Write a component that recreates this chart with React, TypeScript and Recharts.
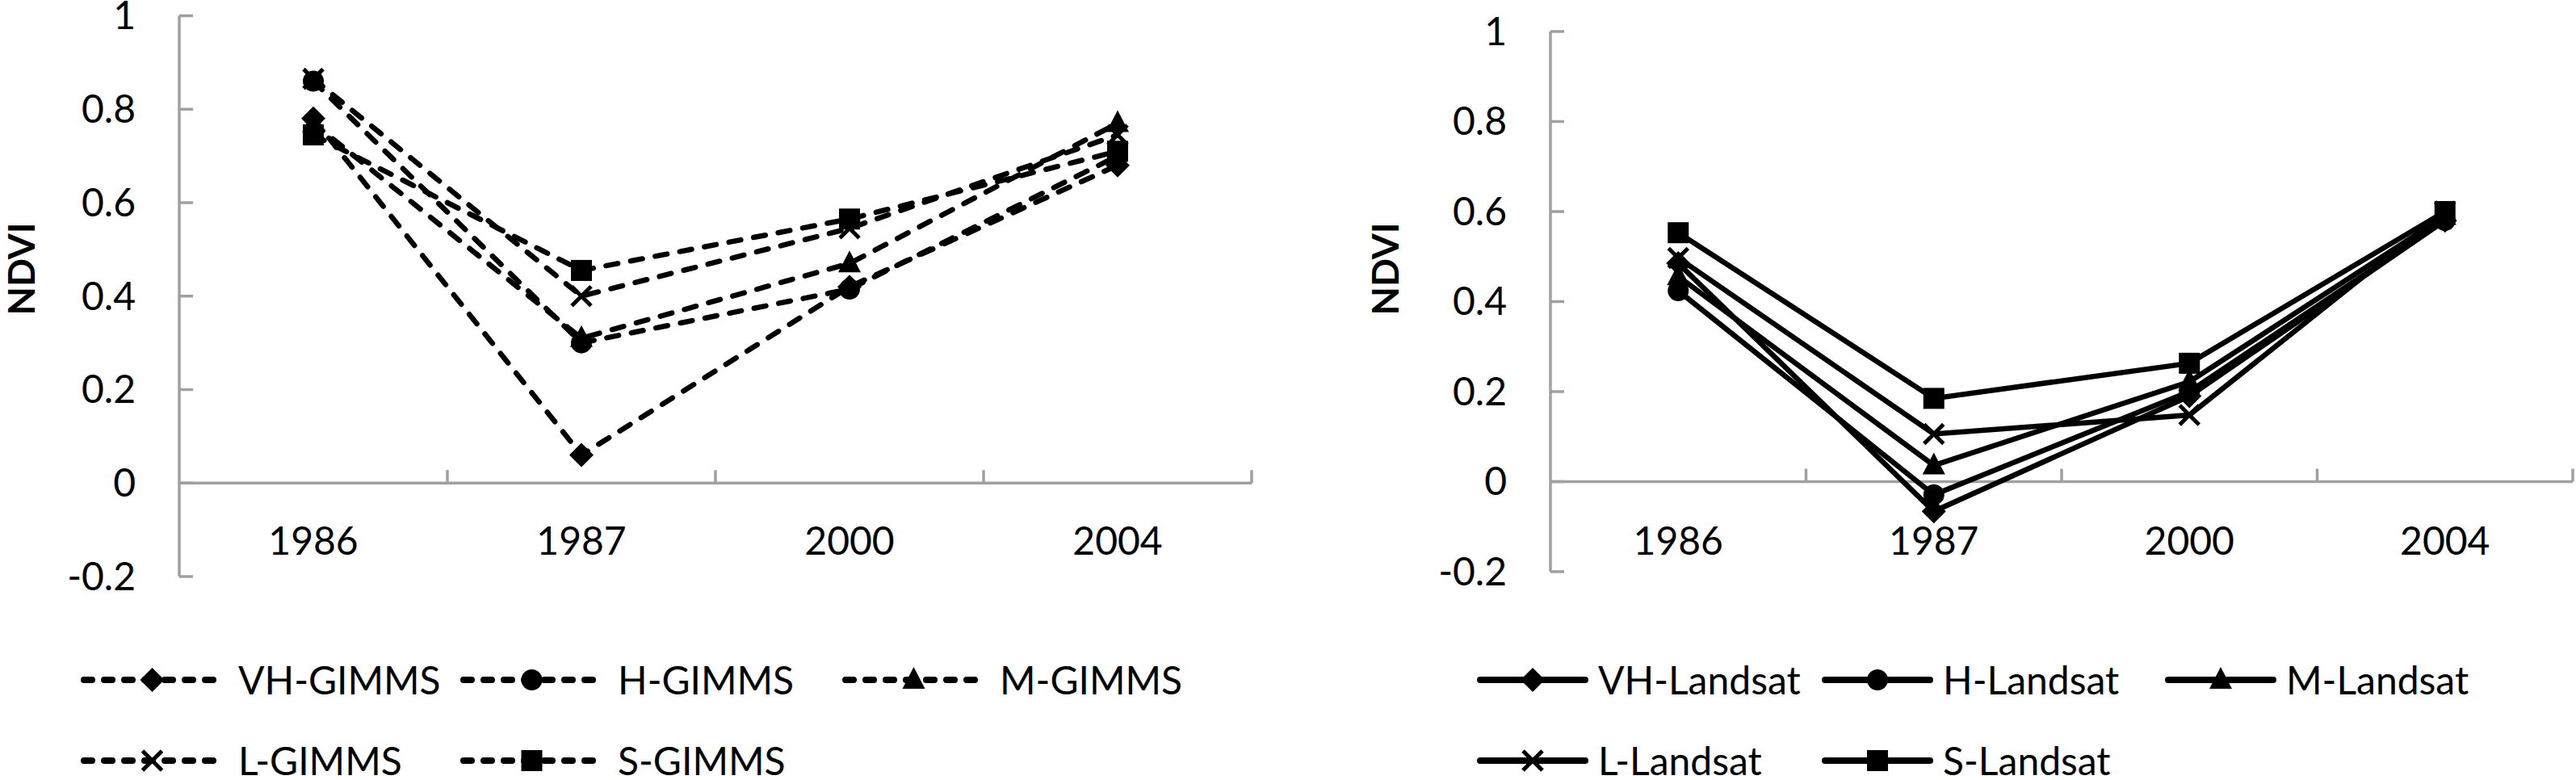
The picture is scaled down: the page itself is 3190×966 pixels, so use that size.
import React from 'react'
import { LineChart, Line, XAxis, YAxis, ReferenceLine, Legend } from 'recharts'

// ---- data ----
const years = ['1986', '1987', '2000', '2004']
const yTicks = [-0.2, 0, 0.2, 0.4, 0.6, 0.8, 1]
const xTicks = [0.5, 1.5, 2.5, 3.5]
const xBounds = [1, 2, 3, 4]

const vhGimms = [0.78, 0.06, 0.42, 0.68]
const hGimms = [0.86, 0.3, 0.415, 0.7]
const mGimms = [0.77, 0.31, 0.47, 0.77]
const lGimms = [0.865, 0.4, 0.545, 0.745]
const sGimms = [0.745, 0.455, 0.565, 0.71]

const vhLandsat = [0.485, -0.066, 0.19, 0.58]
const hLandsat = [0.424, -0.029, 0.2, 0.58]
const mLandsat = [0.456, 0.036, 0.222, 0.59]
const lLandsat = [0.497, 0.106, 0.148, 0.6]
const sLandsat = [0.553, 0.185, 0.263, 0.6]

type Shape = 'diamond' | 'circle' | 'triangle' | 'cross' | 'square'

interface SeriesDef {
    key: string
    name: string
    shape: Shape
}

const gimmsSeries: SeriesDef[] = [
    { key: 'vh', name: 'VH-GIMMS', shape: 'diamond' },
    { key: 'h', name: 'H-GIMMS', shape: 'circle' },
    { key: 'm', name: 'M-GIMMS', shape: 'triangle' },
    { key: 'l', name: 'L-GIMMS', shape: 'cross' },
    { key: 's', name: 'S-GIMMS', shape: 'square' },
]

const landsatSeries: SeriesDef[] = [
    { key: 'vh', name: 'VH-Landsat', shape: 'diamond' },
    { key: 'h', name: 'H-Landsat', shape: 'circle' },
    { key: 'm', name: 'M-Landsat', shape: 'triangle' },
    { key: 'l', name: 'L-Landsat', shape: 'cross' },
    { key: 's', name: 'S-Landsat', shape: 'square' },
]

const gimmsData = years.map((year, i) => ({
    x: i + 0.5,
    year,
    vh: vhGimms[i],
    h: hGimms[i],
    m: mGimms[i],
    l: lGimms[i],
    s: sGimms[i],
}))

const landsatData = years.map((year, i) => ({
    x: i + 0.5,
    year,
    vh: vhLandsat[i],
    h: hLandsat[i],
    m: mLandsat[i],
    l: lLandsat[i],
    s: sLandsat[i],
}))

const FONT = "Lato, 'Open Sans', sans-serif"
const AXIS = '#A0A0A0'

function Marker({ cx, cy, shape }: { cx: number; cy: number; shape: Shape }) {
    if (cx == null || cy == null) return null
    switch (shape) {
        case 'diamond': {
            const r = 15
            return <polygon points={`${cx},${cy - r} ${cx + r},${cy} ${cx},${cy + r} ${cx - r},${cy}`} fill="#000" />
        }
        case 'circle':
            return <circle cx={cx} cy={cy} r={13} fill="#000" />
        case 'triangle':
            return <polygon points={`${cx},${cy - 16} ${cx + 14},${cy + 11} ${cx - 14},${cy + 11}`} fill="#000" />
        case 'cross':
            return (
                <g stroke="#000" strokeWidth={5}>
                    <line x1={cx - 12} y1={cy - 12} x2={cx + 12} y2={cy + 12} />
                    <line x1={cx - 12} y1={cy + 12} x2={cx + 12} y2={cy - 12} />
                </g>
            )
        default:
            return <rect x={cx - 13} y={cy - 13} width={26} height={26} fill="#000" />
    }
}

interface PanelProps {
    data: typeof gimmsData
    series: SeriesDef[]
    dashed: boolean
    left: number
    axisX: number
    plotTop: number
    plotBottom: number
    plotRight: number
    titleX: number
    legendCols: number[]
    legendLine: number
    legendGap: number
}

const W = 1595
const H = 966
const X_AXIS_H = 30
const LABEL_Y = 670
const TITLE_Y = 333
const ROWS = [842, 942]

function Panel(p: PanelProps) {
    const pxPerUnit = (p.plotBottom - p.plotTop) / 1.2
    const tickUnits = 16 / pxPerUnit
    const dash = p.dashed ? '15 16' : undefined

    const YTick = (t: any) => (
        <g>
            <text x={t.x} y={t.y} dy="0.35em" textAnchor="end" fontSize={48} fontFamily={FONT} fill="#000">
                {t.payload.value}
            </text>
            <line x1={p.axisX} x2={p.axisX + 17} y1={t.y} y2={t.y} stroke={AXIS} strokeWidth={3.5} />
        </g>
    )

    const XTick = (t: any) => (
        <text
            x={t.x}
            y={LABEL_Y}
            dy="0.35em"
            textAnchor="middle"
            fontSize={48}
            fontFamily={FONT}
            fill="#000"
        >
            {years[Math.floor(t.payload.value)]}
        </text>
    )

    const renderLegend = () => (
        <div style={{ position: 'relative', width: W, height: H }}>
            {p.series.map((s, i) => (
                <div
                    key={s.key}
                    style={{
                        position: 'absolute',
                        left: p.legendCols[i % 3],
                        top: ROWS[Math.floor(i / 3)] - 24,
                        height: 48,
                        display: 'flex',
                        alignItems: 'center',
                        whiteSpace: 'nowrap',
                    }}
                >
                    <svg width={p.legendLine} height={40} style={{ overflow: 'visible' }}>
                        <line
                            x1={4}
                            x2={p.legendLine - 4}
                            y1={20}
                            y2={20}
                            stroke="#000"
                            strokeWidth={8}
                            strokeLinecap="round"
                            strokeDasharray={p.dashed ? '10 15' : undefined}
                        />
                        <Marker cx={p.legendLine / 2} cy={20} shape={s.shape} />
                    </svg>
                    <span style={{ marginLeft: p.legendGap, fontSize: 48, fontFamily: FONT, lineHeight: 1, color: '#000' }}>
                        {s.name}
                    </span>
                </div>
            ))}
        </div>
    )

    return (
        <div style={{ position: 'absolute', left: p.left, top: 0 }}>
            <LineChart
                width={W}
                height={H}
                data={p.data}
                margin={{
                    top: p.plotTop,
                    right: W - p.plotRight,
                    bottom: H - p.plotBottom - X_AXIS_H,
                    left: 0,
                }}
            >
                <XAxis
                    type="number"
                    dataKey="x"
                    domain={[0, 4]}
                    ticks={xTicks}
                    interval={0}
                    axisLine={false}
                    tickLine={false}
                    tickSize={0}
                    tickMargin={0}
                    height={X_AXIS_H}
                    tick={XTick}
                />
                <YAxis
                    type="number"
                    domain={[-0.2, 1]}
                    ticks={yTicks}
                    interval={0}
                    width={p.axisX}
                    axisLine={{ stroke: AXIS, strokeWidth: 3.5 }}
                    tickLine={false}
                    tickSize={0}
                    tickMargin={54}
                    tick={YTick}
                    label={{
                        content: () => (
                            <text
                                x={p.titleX}
                                y={TITLE_Y}
                                transform={`rotate(-90 ${p.titleX} ${TITLE_Y})`}
                                textAnchor="middle"
                                dominantBaseline="central"
                                fontSize={46}
                                fontWeight="bold"
                                fontFamily={FONT}
                                fill="#000"
                            >
                                NDVI
                            </text>
                        ),
                    }}
                />
                <ReferenceLine y={0} stroke={AXIS} strokeWidth={3.5} />
                {xBounds.map((b) => (
                    <ReferenceLine
                        key={b}
                        segment={[
                            { x: b, y: 0 },
                            { x: b, y: tickUnits },
                        ]}
                        stroke={AXIS}
                        strokeWidth={3.5}
                    />
                ))}
                <Legend
                    layout="horizontal"
                    verticalAlign="middle"
                    align="center"
                    wrapperStyle={{ left: 0, top: 0, width: W, height: H, pointerEvents: 'none' }}
                    content={renderLegend}
                />
                {p.series.map((s) => (
                    <Line
                        key={s.key}
                        type="linear"
                        dataKey={s.key}
                        name={s.name}
                        stroke="#000"
                        strokeWidth={6.5}
                        strokeDasharray={dash}
                        strokeLinecap="round"
                        isAnimationActive={false}
                        activeDot={false}
                        dot={(d: any) => <Marker key={`${s.key}-${d.index}`} cx={d.cx} cy={d.cy} shape={s.shape} />}
                    />
                ))}
            </LineChart>
        </div>
    )
}

export default function App() {
    return (
        <div style={{ position: 'relative', width: 3190, height: 966, background: '#fff' }}>
            <style>{'body{margin:0;}'}</style>
            <Panel
                data={gimmsData}
                series={gimmsSeries}
                dashed
                left={0}
                axisX={222}
                plotTop={19.5}
                plotBottom={714}
                plotRight={1550}
                titleX={25}
                legendCols={[100, 570, 1043]}
                legendLine={177}
                legendGap={18}
            />
            <Panel
                data={landsatData}
                series={landsatSeries}
                dashed={false}
                left={1595}
                axisX={325}
                plotTop={39}
                plotBottom={708}
                plotRight={1591}
                titleX={119}
                legendCols={[234, 661, 1086]}
                legendLine={138}
                legendGap={12}
            />
        </div>
    )
}
